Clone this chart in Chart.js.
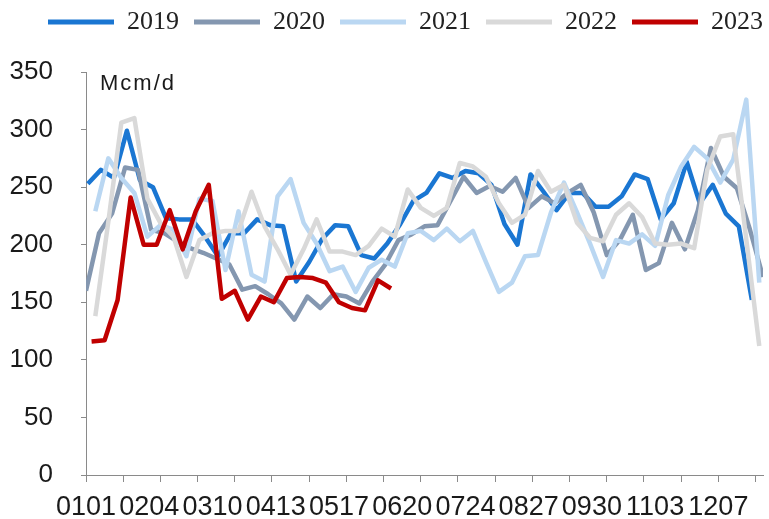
<!DOCTYPE html>
<html>
<head>
<meta charset="utf-8">
<script src="https://cdn.jsdelivr.net/npm/chart.js@4"></script>
<style>
  html, body { margin: 0; padding: 0; background: #fff; }
</style>
</head>
<body>
<canvas id="chart" width="769" height="519"></canvas>
<script>
var years = ['2019', '2020', '2021', '2022', '2023'];
var colors = ['#1a76d2', '#8497b0', '#bad7f2', '#d9d9d9', '#c00000'];
// day of year of the first weekly reading of each year
var firstDay = [1, 0, 5, 5, 3];

var tickLabels = ['0101', '0204', '0310', '0413', '0517', '0620', '0724', '0827', '0930', '1103', '1207'];
var tickDays = [0, 34, 68, 102, 136, 170, 204, 238, 272, 306, 340];

var v2019 = [253, 265, 258, 299, 256, 250, 223, 222, 222, 207,
  190, 210, 210, 222, 217, 216, 168, 185, 205, 217,
  216, 191, 188, 201, 218, 238, 245, 262, 258, 264,
  262, 252, 218, 200, 261, 246, 230, 245, 245, 233,
  233, 242, 261, 257, 222, 236, 272, 236, 252, 227,
  216, 152];
var v2020 = [160, 210, 227, 267, 265, 213, 210, 203, 197, 193,
  188, 183, 161, 164, 157, 149, 135, 155, 145, 157,
  155, 149, 168, 183, 204, 209, 216, 217, 238, 259,
  245, 251, 246, 258, 232, 242, 236, 245, 252, 228,
  191, 204, 226, 178, 184, 219, 196, 230, 284, 259,
  249, 213, 172];
var v2021 = [229, 275, 258, 245, 207, 217, 213, 190, 240, 238,
  178, 229, 174, 168, 242, 257, 219, 201, 177, 181,
  159, 180, 187, 181, 210, 212, 204, 214, 203, 212,
  185, 159, 167, 190, 191, 228, 254, 228, 201, 172,
  204, 201, 209, 199, 243, 268, 285, 275, 254, 274,
  326, 167];
var v2022 = [138, 220, 306, 310, 240, 219, 207, 172, 204, 210,
  212, 212, 246, 216, 196, 174, 196, 222, 194, 194,
  191, 199, 214, 207, 248, 232, 225, 232, 271, 268,
  259, 236, 219, 226, 264, 246, 252, 219, 206, 203,
  226, 236, 224, 201, 200, 201, 197, 265, 294, 296,
  205, 112];
var v2023 = [116, 117, 152, 241, 200, 200, 230, 196, 229, 252,
  153, 160, 135, 155, 150, 171, 172, 171, 167, 150,
  145, 143, 169, 162];

var series = [v2019, v2020, v2021, v2022, v2023];
var axisColor = '#8a8a8a';
var textColor = '#1a1a1a';

// weekly points placed on a day-of-year axis
function toPoints(values, start) {
  return values.map(function(v, i) { return { x: start + i * 7, y: v }; });
}

// 2023 first so it is drawn on top; legend is reversed back
var datasets = [];
for (var i = years.length - 1; i >= 0; i--) {
  datasets.push({
    label: years[i],
    data: toPoints(series[i], firstDay[i]),
    borderColor: colors[i],
    backgroundColor: colors[i],
    borderWidth: 4.5,
    pointRadius: 0,
    tension: 0,
    borderJoinStyle: 'round'
  });
}

var unitLabel = {
  id: 'unitLabel',
  afterDraw: function(chart) {
    var ctx = chart.ctx;
    ctx.save();
    ctx.font = '22px "Liberation Sans", Arial, sans-serif';
    ctx.letterSpacing = '2px';
    ctx.fillStyle = textColor;
    ctx.textBaseline = 'top';
    ctx.fillText('Mcm/d', chart.chartArea.left + 14, chart.chartArea.top + 1);
    ctx.restore();
  }
};

// move the legend up and right like the original
var legendNudge = {
  id: 'legendNudge',
  afterLayout: function(chart) {
    var lg = chart.legend;
    lg.left += 19; lg.right += 19;
    lg.top -= 27; lg.bottom -= 27;
  }
};

var yFont = { family: '"Liberation Sans", Arial, sans-serif', size: 26, lineHeight: 1 };
var xFont = { family: '"Liberation Sans", Arial, sans-serif', size: 27, lineHeight: 1 };

new Chart(document.getElementById('chart'), {
  type: 'line',
  data: { datasets: datasets },
  plugins: [unitLabel, legendNudge],
  options: {
    responsive: false,
    animation: false,
    layout: { padding: { left: 10, right: 6, top: 21, bottom: 0 } },
    plugins: {
      tooltip: { enabled: false },
      legend: {
        position: 'top',
        reverse: true,
        labels: {
          boxWidth: 66,
          boxHeight: 5,
          padding: 15,
          color: '#222',
          font: { family: '"Liberation Serif", "Times New Roman", serif', size: 26 },
          generateLabels: function(chart) {
            var items = Chart.defaults.plugins.legend.labels.generateLabels(chart);
            items.forEach(function(it) { it.lineWidth = 0; it.fillStyle = it.strokeStyle; });
            return items;
          }
        }
      }
    },
    scales: {
      x: {
        type: 'linear',
        min: 0,
        max: 364,
        afterBuildTicks: function(axis) {
          var vals = tickDays.slice();
          for (var d = 0; d <= 360; d += 20) {
            if (vals.indexOf(d) < 0) vals.push(d);
          }
          vals.sort(function(a, b) { return a - b; });
          axis.ticks = vals.map(function(v) { return { value: v }; });
        },
        afterFit: function(axis) {
          axis.height = 44;
          axis.paddingLeft = 0;
          axis.paddingRight = 0;
        },
        ticks: {
          autoSkip: false,
          maxRotation: 0,
          minRotation: 0,
          padding: 12,
          color: textColor,
          font: xFont,
          callback: function(value) {
            var k = tickDays.indexOf(value);
            return k >= 0 ? tickLabels[k] : '';
          }
        },
        grid: {
          drawOnChartArea: false,
          tickLength: 7,
          tickColor: function(ctx) {
            return ctx.tick && ctx.tick.value % 20 === 0 ? axisColor : 'rgba(0,0,0,0)';
          }
        },
        border: { display: true, color: axisColor, width: 1 }
      },
      y: {
        min: 0,
        max: 350,
        afterFit: function(axis) {
          axis.width = 76;
        },
        ticks: {
          stepSize: 50,
          padding: 28,
          color: textColor,
          font: yFont
        },
        grid: {
          drawOnChartArea: false,
          tickLength: 5,
          tickColor: axisColor
        },
        border: { display: true, color: axisColor, width: 1 }
      }
    }
  }
});
</script>
</body>
</html>
